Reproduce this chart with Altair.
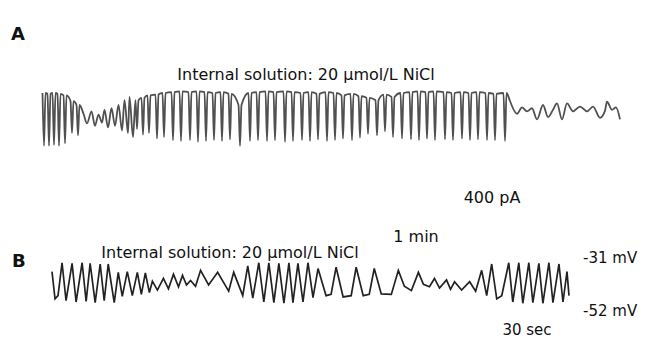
import altair as alt
import pandas as pd

# ---------------- Panel A: membrane current (pA) ----------------
# initial large oscillations (spike time, plateau level, trough level)
a_burst1_t = [44, 49, 54, 59, 65, 72, 78]
a_burst1_top = [0, -7, 0, -7, -20, -67, -100]
a_burst1_trough = [-440, -440, -433, -440, -420, -333, -353]

# small-amplitude waves
a_wave_t = [87, 95, 102, 108, 115, 122, 128, 133]
a_wave_top = [-173, -153, -180, -140, -127, -100, -60, -33]
a_wave_trough = [-253, -273, -247, -287, -273, -313, -333, -367]

# long run of large oscillations
a_burst2_t = [137, 143, 149, 157, 164, 173, 181, 190, 198, 206, 214, 222, 230,
              240, 250, 258, 267, 275, 285, 293, 302, 310, 318, 327, 335, 343,
              352, 360, 368, 377, 385, 393, 402, 411, 419, 427, 435, 445, 453,
              462, 470, 478, 487, 495, 505]
a_burst2_top = [-60, -40, -20, -13, 0, 7, 13, 7, 13, 7, 0, 7, -7,
                -100, 0, 7, 13, 7, 13, 7, 0, 7, -7, 7, 0, -20,
                -7, -27, -40, -60, -13, -33, 0, 7, 13, 7, 13, 7, 0,
                7, 0, 7, 0, -7, 0]
a_burst2_trough = [-300, -347, -333, -380, -367, -393, -400, -393, -407, -400, -393, -400, -387,
                   -440, -400, -393, -400, -393, -407, -400, -393, -400, -387, -400, -393, -380,
                   -393, -373, -340, -353, -320, -367, -380, -387, -393, -380, -393, -387, -393,
                   -380, -393, -387, -393, -393, -400]

# irregular low-amplitude tail
a_tail_t = [508, 510, 517, 522, 527, 532, 537, 543, 548, 553, 557, 562, 567,
            573, 580, 587, 593, 600, 605, 607, 612, 616, 620]
a_tail_v = [-20, -67, -173, -120, -153, -127, -220, -100, -200, -140, -87, -220, -87,
            -153, -113, -153, -113, -207, -147, -73, -140, -120, -220]

# ---------------- Panel B: membrane potential (mV) ----------------
b_t = [52, 55, 58, 62, 66, 72, 76, 82, 86, 90, 95, 100, 104, 108, 114, 118, 122,
       127, 132, 137, 141, 145, 149, 152, 157, 163, 168, 173, 178, 182, 186, 190,
       195, 200, 208, 217, 228, 233, 242, 247, 252, 258, 263, 268, 273, 278, 283,
       288, 292, 297, 302, 307, 312, 317, 325, 330, 335, 342, 350, 355, 362, 368,
       373, 380, 390, 397, 403, 410, 417, 422, 428, 433, 438, 445, 449, 453, 460,
       468, 474, 480, 485, 490, 495, 500, 507, 511, 517, 521, 527, 531, 537, 541,
       547, 551, 557, 561, 565, 567]
b_v = [-35.2, -50.3, -48.5, -30.3, -51.3, -30.7, -52.0, -30.3, -51.7, -30.7, -52.4,
       -31.0, -51.3, -31.0, -52.4, -35.6, -48.9, -35.2, -48.5, -35.6, -47.8, -35.9,
       -46.8, -40.5, -45.4, -39.0, -44.7, -36.6, -43.6, -37.3, -42.6, -40.1, -43.3,
       -34.5, -42.6, -35.6, -46.0, -35.6, -48.5, -32.0, -49.9, -30.3, -52.0, -30.3,
       -52.4, -30.7, -52.7, -30.3, -52.4, -30.7, -52.0, -30.3, -49.6, -33.5, -48.5,
       -47.8, -32.8, -49.2, -48.5, -32.8, -48.5, -47.8, -33.5, -47.5, -47.8, -34.5,
       -43.3, -45.7, -35.6, -42.2, -43.6, -39.0, -44.3, -39.8, -45.0, -40.8, -45.4,
       -40.8, -46.0, -34.5, -48.5, -31.0, -50.3, -48.5, -30.3, -52.0, -30.3, -52.7,
       -30.3, -52.4, -30.7, -52.7, -30.3, -52.4, -31.0, -52.0, -35.2, -48.5]

# ---------------- build trace tables ----------------
rows_a = []


def add_spikes(ts, tops, troughs, hw, rebound):
    for t, top, tr in zip(ts, tops, troughs):
        rows_a.append((t - hw, top))
        rows_a.append((t, tr))
        if rebound:
            rows_a.append((t + hw, top))


add_spikes(a_burst1_t, a_burst1_top, a_burst1_trough, 1.5, True)
add_spikes(a_wave_t, a_wave_top, a_wave_trough, 3.5, False)
add_spikes(a_burst2_t, a_burst2_top, a_burst2_trough, 1.5, True)
for t, v in zip(a_tail_t, a_tail_v):
    rows_a.append((t, v))

df_a = pd.DataFrame(rows_a, columns=["t", "pA"])
df_a["i"] = range(len(df_a))
df_b = pd.DataFrame({"t": b_t, "mV": b_v})
df_b["i"] = range(len(df_b))

W, H = 632, 333
FONT = "DejaVu Sans"

trace_a = alt.Chart(df_a).mark_line(color="#505050", strokeWidth=1.8, interpolate="monotone").encode(
    x=alt.X("t:Q", axis=None, scale=alt.Scale(domain=[42, 620], range=[34, 612])),
    y=alt.Y("pA:Q", axis=None, scale=alt.Scale(domain=[-400, 0], range=[133, 85])),
    order="i:Q",
)

trace_b = alt.Chart(df_b).mark_line(color="#222222", strokeWidth=1.7).encode(
    x=alt.X("t:Q", axis=None, scale=alt.Scale(domain=[52, 567], range=[44, 561])),
    y=alt.Y("mV:Q", axis=None, scale=alt.Scale(domain=[-52, -31], range=[294, 256])),
    order="i:Q",
)

one = pd.DataFrame({"k": [0]})


def label(txt, x, y, size=16, bold=False, align="center"):
    return alt.Chart(one).mark_text(
        text=txt, font=FONT, fontSize=size, fontWeight="bold" if bold else "normal",
        align=align, baseline="middle", color="#111111",
    ).encode(x=alt.value(x), y=alt.value(y))


texts = [
    label("A", 3, 27, size=18, bold=True, align="left"),
    label("Internal solution: 20 \u03bcmol/L NiCl", 298, 67),
    label("400 pA", 484, 190),
    label("1 min", 408, 229),
    label("B", 4, 254, size=18, bold=True, align="left"),
    label("Internal solution: 20 \u03bcmol/L NiCl", 222, 245),
    label("-31 mV", 575, 250, size=15, align="left"),
    label("-52 mV", 575, 303, size=15, align="left"),
    label("30 sec", 519, 322, size=15),
]

chart = alt.layer(trace_a, trace_b, *texts).resolve_scale(
    x="independent", y="independent"
).properties(
    width=W, height=H, padding=0,
    autosize=alt.AutoSizeParams(type="none"),
    background="white",
).configure_view(stroke=None)

chart.save("out.html", embed_options={"renderer": "svg", "actions": False})
